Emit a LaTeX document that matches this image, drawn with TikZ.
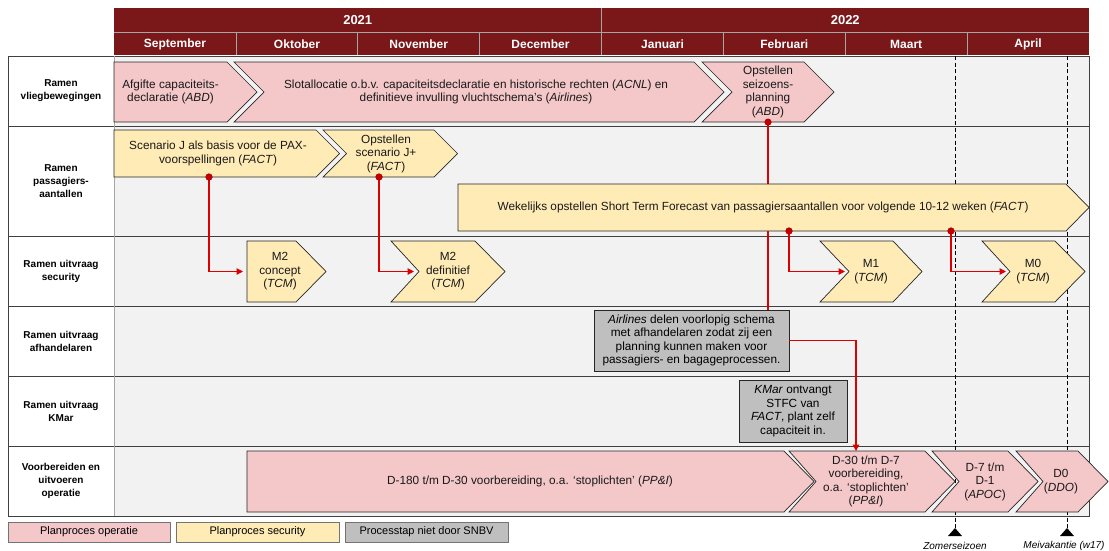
\documentclass[tikz,border=0pt]{standalone}
\usepackage{fontspec}
\setmainfont{Liberation Sans}
\usetikzlibrary{arrows.meta}
\definecolor{hdr}{HTML}{7A1719}
\definecolor{pinkf}{HTML}{F4C7C9}
\definecolor{yelf}{HTML}{FFEBB6}
\definecolor{grayf}{HTML}{BFBFBF}
\definecolor{bgf}{HTML}{F2F2F2}
\definecolor{redl}{HTML}{DC0000}
\definecolor{redd}{HTML}{BF0000}
\definecolor{linec}{HTML}{404040}
\definecolor{sepc}{HTML}{A6A6A6}
\newcommand\chev[7]{%
  \path[#7] (#1,#3) -- (#2,#3) -- ({#2+#6},{(#3+#4)/2}) -- (#2,#4) -- (#1,#4) -- ({#1+#5},{(#3+#4)/2}) -- cycle;}
\tikzset{
 pinkc/.style={fill=pinkf, draw=black!85, line width=0.7pt},
 yelc/.style={fill=yelf, draw=black!85, line width=0.7pt},
 txt/.style={align=center, inner sep=0pt, font=\fontsize{11.8}{13.5}\selectfont, text=black!90},
 lbl/.style={align=center, inner sep=0pt, font=\bfseries\fontsize{10}{13}\selectfont},
 hdrtxt/.style={text=white, inner sep=0pt, font=\bfseries\fontsize{12}{14}\selectfont},
 yrtxt/.style={text=white, inner sep=0pt, font=\bfseries\fontsize{13}{15}\selectfont},
 graybox/.style={draw=black!85, fill=grayf, line width=0.7pt, align=center, inner sep=0pt, font=\fontsize{11.8}{13.5}\selectfont},
 legbox/.style={draw=black!55, line width=0.7pt, minimum width=162pt, minimum height=20pt, inner sep=0pt, font=\fontsize{11}{13}\selectfont},
 conn/.style={draw=redl, line width=1.1pt, -{Triangle[length=6.5pt,width=6.5pt]}},
 link/.style={draw=redl, line width=1.1pt},
 reddot/.style={circle, fill=redd, inner sep=0pt, minimum size=7pt},
 dashln/.style={draw=black, line width=0.8pt, dash pattern=on 4pt off 2.5pt},
 note/.style={inner sep=0pt, font=\itshape\fontsize{10}{12}\selectfont},
 rowline/.style={draw=linec, line width=0.8pt},
 hsep/.style={draw=sepc, line width=0.8pt}
}
\begin{document}
\begin{tikzpicture}[x=1pt,y=-1pt,line join=miter]
\useasboundingbox (0,0) rectangle (1109,550);
% backgrounds
\fill[bgf] (114,56) rectangle (1089,516);
\fill[white] (8,56) rectangle (114,516);
\foreach \y in {126,236,306,376,446} \draw[rowline] (8,\y) -- (1089,\y);
\draw[rowline] (8,56) rectangle (1089,516);
\draw[hsep] (114,56) -- (114,516);
% header
\fill[hdr] (114,8) rectangle (1089,55);
\draw[hsep] (114,32) -- (1089,32);
\draw[hsep] (601.5,8) -- (601.5,32);
\foreach \x in {235.9,357.75,479.6,601.5,723.4,845.25,967.1} \draw[hsep] (\x,32) -- (\x,55);
\node[yrtxt] (y2021) at (357.75,20) {2021};
\node[yrtxt] (y2022) at (845.25,20) {2022};
\node[hdrtxt] (mSep) at (175,44) {September};
\node[hdrtxt] (mOkt) at (297,44) {Oktober};
\node[hdrtxt] (mNov) at (418.7,44) {November};
\node[hdrtxt] (mDec) at (540.5,44) {December};
\node[hdrtxt] (mJan) at (662.5,44) {Januari};
\node[hdrtxt] (mFeb) at (784.3,44) {Februari};
\node[hdrtxt] (mMrt) at (906.2,44) {Maart};
\node[hdrtxt] (mApr) at (1028,44) {April};
% row labels
\node[lbl] (r1) at (61,91) {Ramen\\vliegbewegingen};
\node[lbl] (r2) at (61,181) {Ramen\\passagiers-\\aantallen};
\node[lbl] (r3) at (61,271) {Ramen uitvraag\\security};
\node[lbl] (r4) at (61,341) {Ramen uitvraag\\afhandelaren};
\node[lbl] (r5) at (61,411) {Ramen uitvraag\\KMar};
\node[lbl] (r6) at (61,481) {Voorbereiden en\\uitvoeren\\operatie};
% dashed markers
\coordinate (zsTop) at (955,56);
\coordinate (zsBot) at (955,528);
\coordinate (mvTop) at (1067,56);
\coordinate (mvBot) at (1067,528);
\draw[dashln] (zsTop) -- (zsBot);
\draw[dashln] (mvTop) -- (mvBot);
\fill (zsBot) -- ++(-7,8) -- ++(14,0) -- cycle;
\fill (mvBot) -- ++(-7,8) -- ++(14,0) -- cycle;
\node[note] (zsl) at (955,545.5) {Zomerseizoen};
\node[note] (mvl) at (1064,545.5) {Meivakantie (w17)};
% gray boxes
\node[graybox, minimum width=195pt, minimum height=61pt] (air) at (691.5,340.5)
  {\textit{Airlines} delen voorlopig schema\\met afhandelaren zodat zij een\\planning kunnen maken voor\\passagiers- en bagageprocessen.};
\node[graybox, minimum width=108pt, minimum height=62pt] (kmar) at (793,411)
  {\textit{KMar} ontvangt\\STFC van\\\textit{FACT}, plant zelf\\capaciteit in.};
% link behind STFC
\node[reddot] (dt5) at (768,122) {};
\draw[link] (dt5.center) -- (dt5.center |- air.north);
% row 1 chevrons
\chev{114}{227}{62}{122}{0}{30}{pinkc}
\chev{234}{694}{62}{122}{30}{30}{pinkc}
\chev{702}{804}{62}{122}{30}{30}{pinkc}
\node[txt] (afgifte) at (170.5,92) {Afgifte capaciteits-\\declaratie (\textit{ABD})};
\node[txt] (slot) at (476,92) {Slotallocatie o.b.v. capaciteitsdeclaratie en historische rechten (\textit{ACNL}) en\\definitieve invulling vluchtschema’s (\textit{Airlines})};
\node[txt] (opst) at (768,92) {Opstellen\\seizoens-\\planning\\(\textit{ABD})};
% row 2 chevrons
\chev{114}{316}{130}{177}{0}{23.5}{yelc}
\chev{323}{434}{130}{177}{23.5}{23.5}{yelc}
\chev{458}{1066}{184}{231}{0}{23}{yelc}
\node[txt] (scJ) at (218,153.5) {Scenario J als basis voor de PAX-\\voorspellingen (\textit{FACT})};
\node[txt] (scJp) at (386,153.5) {Opstellen\\scenario J+\\(\textit{FACT})};
\node[txt] (stfc) at (763,207.5) {Wekelijks opstellen Short Term Forecast van passagiersaantallen voor volgende 10-12 weken (\textit{FACT})};
% row 3 chevrons
\chev{247}{296}{241}{302}{0}{30}{yelc}
\chev{391}{475}{241}{302}{28}{30}{yelc}
\chev{820}{893}{241}{302}{29}{29}{yelc}
\chev{982}{1055}{241}{302}{28}{30}{yelc}
\node[txt] (m2c) at (280,271.5) {M2\\concept\\(\textit{TCM})};
\node[txt] (m2d) at (448,271.5) {M2\\definitief\\(\textit{TCM})};
\node[txt] (m1) at (871,271.5) {M1\\(\textit{TCM})};
\node[txt] (m0) at (1033,271.5) {M0\\(\textit{TCM})};
% row 6 chevrons
\chev{247}{784}{451}{512}{0}{30}{pinkc}
\chev{789}{925}{451}{512}{27}{30}{pinkc}
\chev{932}{1008}{451}{512}{27}{30}{pinkc}
\chev{1016}{1078}{451}{512}{27}{30}{pinkc}
\node[txt] (d180) at (530,481.5) {D-180 t/m D-30 voorbereiding, o.a. ‘stoplichten’ (\textit{PP\&I})};
\node[txt] (d30) at (866,481.5) {D-30 t/m D-7\\voorbereiding,\\o.a. ‘stoplichten’\\(\textit{PP\&I})};
\node[txt] (d7) at (985,481.5) {D-7 t/m\\D-1\\(\textit{APOC})};
\node[txt] (d0) at (1061,481.5) {D0\\(\textit{DDO})};
% connector targets
\coordinate (m2cin) at (243,271.5);
\coordinate (m2din) at (414,271.5);
\coordinate (m1in) at (845,271.5);
\coordinate (m0in) at (1006,271.5);
\coordinate (d30top) at (856,451);
% dots and connectors
\node[reddot] (dt1) at (209,177) {};
\node[reddot] (dt2) at (379,177) {};
\node[reddot] (dt3) at (789,231) {};
\node[reddot] (dt4) at (951,231) {};
\draw[conn] (dt1.center) |- (m2cin);
\draw[conn] (dt2.center) |- (m2din);
\draw[conn] (dt3.center) |- (m1in);
\draw[conn] (dt4.center) |- (m0in);
\draw[conn] (air.east) -| (d30top);
\node[reddot] at (dt1) {};
\node[reddot] at (dt2) {};
\node[reddot] at (dt3) {};
\node[reddot] at (dt4) {};
\node[reddot] at (dt5) {};
% legend
\node[legbox, fill=pinkf] (leg1) at (89,532) {Planproces operatie};
\node[legbox, fill=yelf, minimum width=163pt] (leg2) at (257.5,532) {Planproces security};
\node[legbox, fill=grayf, minimum width=163pt] (leg3) at (426.5,532) {Processtap niet door SNBV};
\end{tikzpicture}
\end{document}
